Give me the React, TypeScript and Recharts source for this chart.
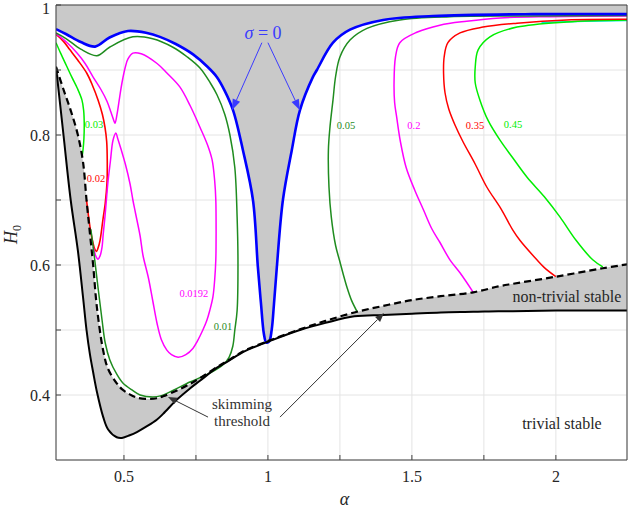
import React from 'react';
import {
  ComposedChart,
  Line,
  Area,
  XAxis,
  YAxis,
  CartesianGrid,
  ReferenceLine,
  ReferenceDot,
} from 'recharts';

// ---------- axes ----------
const alphaRange: [number, number] = [0.264, 2.247];
const hRange: [number, number] = [0.3, 1];
const alphaTicks = [0.5, 0.75, 1, 1.25, 1.5, 1.75, 2];
const alphaTickLabels = ['0.5', '', '1', '', '1.5', '', '2'];
const hTicks = [0.4, 0.5, 0.6, 0.7, 0.8, 0.9, 1];
const hTickLabels = ['0.4', '', '0.6', '', '0.8', '', '1'];

// ---------- sigma = 0 boundary (alpha, H0) ----------
const sigmaZero: [number, number][] = [
  [0.264, 0.963], [0.3, 0.955], [0.35, 0.943], [0.4, 0.936], [0.45, 0.95], [0.514, 0.96],
  [0.58, 0.957], [0.625, 0.951], [0.68, 0.94], [0.74, 0.924], [0.79, 0.905], [0.823, 0.889],
  [0.85, 0.868], [0.879, 0.838], [0.913, 0.777], [0.948, 0.7], [0.965, 0.597], [0.976, 0.54],
  [0.986, 0.494], [0.994, 0.481], [1.004, 0.482], [1.013, 0.5], [1.021, 0.54], [1.031, 0.597],
  [1.052, 0.7], [1.083, 0.777], [1.111, 0.838], [1.156, 0.889], [1.17, 0.9], [1.226, 0.942],
  [1.285, 0.962], [1.4, 0.977], [1.573, 0.983], [1.92, 0.986], [2.247, 0.986],
];

// ---------- lower band: (alpha, trivial-stability bound, skimming threshold) ----------
const skimBand: [number, number, number][] = [
  [0.264, 0.905, 0.905], [0.29, 0.8, 0.87], [0.315, 0.7, 0.838], [0.34, 0.622, 0.8],
  [0.358, 0.55, 0.758], [0.37, 0.5, 0.7], [0.382, 0.462, 0.648], [0.393, 0.435, 0.6],
  [0.406, 0.405, 0.535], [0.428, 0.366, 0.468], [0.445, 0.347, 0.44], [0.475, 0.335, 0.418],
  [0.493, 0.334, 0.409], [0.52, 0.338, 0.401], [0.545, 0.343, 0.396], [0.58, 0.352, 0.394],
  [0.614, 0.362, 0.395], [0.636, 0.371, 0.398], [0.684, 0.393, 0.407], [0.729, 0.41, 0.417],
  [0.764, 0.422, 0.426], [0.823, 0.442, 0.443], [0.858, 0.451, 0.452], [0.913, 0.466, 0.467],
  [0.9375, 0.471, 0.472], [0.983, 0.479, 0.48], [1.0, 0.482, 0.483], [1.111, 0.5, 0.501],
  [1.2, 0.511, 0.514], [1.3, 0.521, 0.527], [1.4, 0.523, 0.537], [1.5, 0.525, 0.546],
  [1.6, 0.527, 0.552], [1.713, 0.528, 0.558], [1.8, 0.529, 0.567], [1.85, 0.529, 0.571],
  [2.0, 0.53, 0.582], [2.163, 0.53, 0.595], [2.247, 0.53, 0.601],
];

// ---------- growth-rate contours (alpha, H0) ----------
const sigma003: [number, number][] = [
  [0.264, 0.942], [0.28, 0.926], [0.3, 0.907], [0.319, 0.889], [0.338, 0.872], [0.354, 0.854],
  [0.36, 0.838], [0.362, 0.818], [0.361, 0.795], [0.358, 0.778], [0.355, 0.768],
];
const sigma002: [number, number][] = [
  [0.264, 0.955], [0.29, 0.944], [0.3125, 0.931], [0.34, 0.915], [0.371, 0.895], [0.39, 0.877],
  [0.41, 0.854], [0.425, 0.832], [0.434, 0.812], [0.44, 0.79], [0.442, 0.76], [0.441, 0.726],
  [0.435, 0.695], [0.427, 0.67], [0.417, 0.638], [0.41, 0.626], [0.405, 0.621], [0.399, 0.624],
  [0.392, 0.635], [0.385, 0.65], [0.377, 0.675], [0.37, 0.7],
];
const sigma00192: [number, number][] = [
  [0.264, 0.956], [0.3, 0.943], [0.337, 0.926], [0.365, 0.91], [0.393, 0.889], [0.42, 0.87],
  [0.441, 0.852], [0.455, 0.835], [0.465, 0.822], [0.469, 0.818], [0.476, 0.832], [0.485, 0.858],
  [0.493, 0.88], [0.505, 0.905], [0.514, 0.917], [0.531, 0.926], [0.56, 0.925], [0.615, 0.91],
  [0.65, 0.895], [0.694, 0.874], [0.73, 0.845], [0.764, 0.812], [0.79, 0.785], [0.806, 0.762],
  [0.815, 0.73], [0.819, 0.7], [0.82, 0.65], [0.819, 0.608], [0.815, 0.577], [0.809, 0.551],
  [0.798, 0.53], [0.788, 0.515], [0.774, 0.5], [0.755, 0.483], [0.74, 0.472], [0.715, 0.462],
  [0.688, 0.458], [0.665, 0.462], [0.649, 0.469], [0.63, 0.485], [0.615, 0.51], [0.6, 0.545],
  [0.585, 0.58], [0.566, 0.615], [0.556, 0.645], [0.54, 0.68], [0.531, 0.7], [0.521, 0.725],
  [0.505, 0.755], [0.49, 0.778], [0.478, 0.795], [0.472, 0.803], [0.462, 0.792], [0.453, 0.76],
  [0.444, 0.726], [0.439, 0.7], [0.434, 0.674], [0.428, 0.648], [0.424, 0.628], [0.417, 0.614],
  [0.41, 0.609], [0.404, 0.612], [0.399, 0.618], [0.393, 0.628],
];
const sigma001: [number, number][] = [
  [0.264, 0.957], [0.3, 0.948], [0.35, 0.932], [0.406, 0.922], [0.45, 0.935], [0.531, 0.951],
  [0.6, 0.948], [0.67, 0.935], [0.72, 0.92], [0.764, 0.903], [0.8, 0.88], [0.823, 0.862],
  [0.85, 0.832], [0.868, 0.8], [0.885, 0.75], [0.893, 0.674], [0.896, 0.6], [0.893, 0.53],
  [0.885, 0.5], [0.878, 0.475], [0.865, 0.458], [0.845, 0.447], [0.8, 0.434], [0.729, 0.42],
  [0.67, 0.407], [0.63, 0.399], [0.6, 0.397], [0.556, 0.4], [0.53, 0.407], [0.497, 0.418],
  [0.475, 0.432], [0.451, 0.454], [0.435, 0.48], [0.424, 0.515], [0.41, 0.565], [0.393, 0.628],
  [0.385, 0.655],
];
const sigma005: [number, number][] = [
  [2.247, 0.984], [1.9, 0.983], [1.632, 0.982], [1.458, 0.977], [1.344, 0.964], [1.285, 0.946],
  [1.25, 0.92], [1.235, 0.89], [1.226, 0.854], [1.215, 0.81], [1.21, 0.777], [1.212, 0.72],
  [1.22, 0.674], [1.235, 0.63], [1.25, 0.605], [1.262, 0.585], [1.275, 0.565], [1.29, 0.546],
  [1.31, 0.528],
];
const sigma02: [number, number][] = [
  [2.247, 0.983], [1.98, 0.982], [1.806, 0.98], [1.69, 0.975], [1.597, 0.969], [1.517, 0.958],
  [1.458, 0.942], [1.443, 0.92], [1.438, 0.88], [1.44, 0.85], [1.447, 0.828], [1.46, 0.79],
  [1.48, 0.75], [1.51, 0.715], [1.54, 0.685], [1.57, 0.655], [1.597, 0.635], [1.632, 0.608],
  [1.667, 0.588], [1.713, 0.558],
];
const sigma035: [number, number][] = [
  [2.247, 0.978], [2.038, 0.977], [1.865, 0.972], [1.747, 0.966], [1.667, 0.957], [1.625, 0.942],
  [1.612, 0.92], [1.61, 0.895], [1.615, 0.865], [1.628, 0.84], [1.65, 0.815], [1.677, 0.79],
  [1.72, 0.755], [1.76, 0.72], [1.81, 0.686], [1.85, 0.654], [1.875, 0.638], [1.934, 0.608],
  [1.96, 0.596], [2.0, 0.582],
];
const sigma045: [number, number][] = [
  [2.247, 0.977], [2.038, 0.974], [1.865, 0.966], [1.771, 0.951], [1.73, 0.931], [1.72, 0.905],
  [1.72, 0.88], [1.736, 0.854], [1.765, 0.822], [1.806, 0.792], [1.85, 0.765], [1.9, 0.735],
  [1.96, 0.705], [2.014, 0.674], [2.07, 0.638], [2.128, 0.608], [2.163, 0.597],
];
const sigma055: [number, number][] = [[1.95, 0.973], [2.1, 0.975], [2.247, 0.976]];

// ---------- contour labels: text, alpha, H0 ----------
const contourLabels: [string, number, number][] = [
  ['0.03', 0.396, 0.816], ['0.02', 0.403, 0.734], ['0.0192', 0.743, 0.557], ['0.01', 0.844, 0.505],
  ['0.05', 1.271, 0.815], ['0.2', 1.507, 0.815], ['0.35', 1.719, 0.815], ['0.45', 1.851, 0.816],
];

// ---------- annotations (data coordinates) ----------
const sigmaLabel: [number, number] = [0.983, 0.957];
const sigmaArrows: [number, number, number, number][] = [
  [0.979, 0.942, 0.875, 0.838],
  [1.0, 0.942, 1.111, 0.838],
];
const skimLabel: [number, number] = [0.91, 0.378];
const skimArrows: [number, number, number, number][] = [
  [0.792, 0.366, 0.653, 0.397],
  [1.042, 0.366, 1.403, 0.526],
];
const regionLabels: [string, number, number][] = [
  ['non-trivial stable', 2.038, 0.551],
  ['trivial stable', 2.021, 0.357],
];

// ---------- styling ----------
const FONT = "'Liberation Serif', 'Times New Roman', Times, 'DejaVu Serif', serif";
const AXIS = '#404040';
const INK = '#262626';
const GRAY = '#c9c9c9';
const DKGREEN = '#1f8c1f';
const LIME = '#00ee00';
const RED = '#ff0000';
const MAGENTA = '#ff00ff';
const BLUE = '#0000ff';
const CYAN = '#00e5e5';

const labelColor: Record<string, string> = {
  '0.03': LIME, '0.02': RED, '0.0192': MAGENTA, '0.01': DKGREEN,
  '0.05': DKGREEN, '0.2': MAGENTA, '0.35': RED, '0.45': LIME,
};

const toPts = (arr: [number, number][]) => arr.map(([a, h]) => ({ a, h }));

// centripetal Catmull-Rom curve through the points, usable for lines and areas
function SmoothCurve(this: any, context: any) {
  this._context = context;
}
SmoothCurve.prototype = {
  areaStart() {
    this._line = 0;
  },
  areaEnd() {
    this._line = NaN;
  },
  lineStart() {
    this._pts = [];
  },
  lineEnd() {
    const p: number[][] = this._pts;
    const n = p.length;
    const ctx = this._context;
    const eps = 1e-9;
    if (n) {
      if (this._line) ctx.lineTo(p[0][0], p[0][1]);
      else ctx.moveTo(p[0][0], p[0][1]);
      if (n === 2) ctx.lineTo(p[1][0], p[1][1]);
      else {
        for (let i = 0; i < n - 1; i++) {
          const p0 = i > 0 ? p[i - 1] : p[i];
          const p1 = p[i];
          const p2 = p[i + 1];
          const p3 = i + 2 < n ? p[i + 2] : p2;
          const d01 = Math.sqrt(Math.hypot(p1[0] - p0[0], p1[1] - p0[1]));
          const d12 = Math.sqrt(Math.hypot(p2[0] - p1[0], p2[1] - p1[1]));
          const d23 = Math.sqrt(Math.hypot(p3[0] - p2[0], p3[1] - p2[1]));
          let c1x = p1[0], c1y = p1[1], c2x = p2[0], c2y = p2[1];
          if (d01 > eps) {
            const a = 2 * d01 * d01 + 3 * d01 * d12 + d12 * d12;
            const nn = 3 * d01 * (d01 + d12);
            c1x = (p1[0] * a - p0[0] * d12 * d12 + p2[0] * d01 * d01) / nn;
            c1y = (p1[1] * a - p0[1] * d12 * d12 + p2[1] * d01 * d01) / nn;
          }
          if (d23 > eps) {
            const b = 2 * d23 * d23 + 3 * d23 * d12 + d12 * d12;
            const m = 3 * d23 * (d23 + d12);
            c2x = (p2[0] * b + p1[0] * d23 * d23 - p3[0] * d12 * d12) / m;
            c2y = (p2[1] * b + p1[1] * d23 * d23 - p3[1] * d12 * d12) / m;
          }
          ctx.bezierCurveTo(c1x, c1y, c2x, c2y, p2[0], p2[1]);
        }
      }
    }
    if (this._line || (this._line !== 0 && n === 1)) ctx.closePath();
    this._line = 1 - this._line;
  },
  point(x: number, y: number) {
    this._pts.push([+x, +y]);
  },
};
const smooth: any = (context: any) => new (SmoothCurve as any)(context);

const contours: { key: string; pts: [number, number][]; color: string; w: number }[] = [
  { key: 'c055', pts: sigma055, color: CYAN, w: 1.5 },
  { key: 'c045', pts: sigma045, color: LIME, w: 1.5 },
  { key: 'c035', pts: sigma035, color: RED, w: 1.5 },
  { key: 'c02', pts: sigma02, color: MAGENTA, w: 1.5 },
  { key: 'c005', pts: sigma005, color: DKGREEN, w: 1.5 },
  { key: 'c003', pts: sigma003, color: LIME, w: 1.5 },
  { key: 'c002', pts: sigma002, color: RED, w: 1.6 },
  { key: 'c00192', pts: sigma00192, color: MAGENTA, w: 1.5 },
  { key: 'c001', pts: sigma001, color: DKGREEN, w: 1.5 },
];

const arrowShape = (color: string, headLen: number, headW: number) => (p: any) => {
  const x1 = Number(p.x1), y1 = Number(p.y1), x2 = Number(p.x2), y2 = Number(p.y2);
  const dx = x2 - x1, dy = y2 - y1;
  const L = Math.hypot(dx, dy) || 1;
  const ux = dx / L, uy = dy / L;
  const bx = x2 - ux * headLen, by = y2 - uy * headLen;
  const px = -uy * headW, py = ux * headW;
  return (
    <g>
      <line x1={x1} y1={y1} x2={bx} y2={by} stroke={color} strokeWidth={1} />
      <polygon points={`${x2},${y2} ${bx + px},${by + py} ${bx - px},${by - py}`} fill={color} />
    </g>
  );
};

const txt = (size: number, extra: any = {}) => ({ fontFamily: FONT, fontSize: size, ...extra });

const XTick = (props: any) => {
  const i = alphaTicks.findIndex((t) => Math.abs(t - props.payload.value) < 1e-9);
  const label = i >= 0 ? alphaTickLabels[i] : '';
  return (
    <text x={props.x} y={props.y} dy="0.71em" textAnchor="middle" fill={INK} style={txt(16)}>
      {label}
    </text>
  );
};

const YTick = (props: any) => {
  const v = props.payload.value;
  const i = hTicks.findIndex((t) => Math.abs(t - v) < 1e-9);
  const label = i >= 0 ? hTickLabels[i] : '';
  const shift = v >= 0.999 ? 3 : 0;
  return (
    <text
      x={props.x}
      y={props.y + shift}
      dy="0.35em"
      textAnchor="end"
      fill={INK}
      style={txt(16)}
    >
      {label}
    </text>
  );
};

const H0Label = (props: any) => {
  const vb = props.viewBox || { x: 0, y: 5, width: 56, height: 455 };
  const x = vb.x + 17;
  const y = vb.y + vb.height / 2 + 2;
  return (
    <text
      x={x}
      y={y}
      transform={`rotate(-90, ${x}, ${y})`}
      textAnchor="middle"
      fill={INK}
      style={txt(18)}
    >
      <tspan style={{ fontStyle: 'italic' }}>H</tspan>
      <tspan style={{ fontSize: 12 }} dy={4}>
        0
      </tspan>
    </text>
  );
};

const AlphaLabel = (props: any) => {
  const vb = props.viewBox || { x: 56, y: 460, width: 571, height: 48 };
  return (
    <text
      x={vb.x + vb.width / 2 + 3}
      y={vb.y + 45}
      textAnchor="middle"
      fill={INK}
      style={txt(18, { fontStyle: 'italic' })}
    >
      α
    </text>
  );
};

export default function App() {
  const topBand = sigmaZero.map(([a, h]) => ({ a, band: [h, 1] }));
  const lowBand = skimBand.map(([a, s, d]) => ({ a, band: [s, d] }));
  const solid = skimBand.map(([a, s]) => ({ a, h: s }));
  const dashed = skimBand.map(([a, , d]) => ({ a, h: d }));

  return (
    <div
      style={{
        position: 'absolute',
        left: 0,
        top: 0,
        width: 629,
        height: 508,
        background: '#fff',
        fontFamily: FONT,
      }}
    >
      <ComposedChart width={629} height={508} margin={{ top: 4, right: 1, left: 0, bottom: 0 }}>
        <CartesianGrid stroke="#e4e4e4" strokeWidth={1} />
        <XAxis
          dataKey="a"
          type="number"
          domain={alphaRange}
          allowDataOverflow
          ticks={alphaTicks}
          interval={0}
          height={48}
          tickSize={-5}
          tickMargin={16}
          stroke={AXIS}
          tick={<XTick />}
          label={<AlphaLabel />}
        />
        <XAxis
          xAxisId="top"
          orientation="top"
          type="number"
          domain={alphaRange}
          allowDataOverflow
          ticks={alphaTicks}
          interval={0}
          height={1}
          tickSize={-5}
          tick={false}
          stroke={AXIS}
        />
        <YAxis
          type="number"
          domain={hRange}
          allowDataOverflow
          ticks={hTicks}
          interval={0}
          width={56}
          tickSize={-5}
          tickMargin={11}
          stroke={AXIS}
          tick={<YTick />}
          label={<H0Label />}
        />
        <YAxis
          yAxisId="right"
          orientation="right"
          type="number"
          domain={hRange}
          allowDataOverflow
          ticks={hTicks}
          interval={0}
          width={1}
          tickSize={-5}
          tick={false}
          stroke={AXIS}
        />

        <Area
          data={topBand}
          dataKey="band"
          type={smooth}
          fill={GRAY}
          fillOpacity={1}
          stroke="none"
          dot={false}
          activeDot={false}
          isAnimationActive={false}
        />
        <Area
          data={lowBand}
          dataKey="band"
          type={smooth}
          fill={GRAY}
          fillOpacity={1}
          stroke="none"
          dot={false}
          activeDot={false}
          isAnimationActive={false}
        />

        {contours.map((c) => (
          <Line
            key={c.key}
            data={toPts(c.pts)}
            dataKey="h"
            type={smooth}
            stroke={c.color}
            strokeWidth={c.w}
            dot={false}
            activeDot={false}
            isAnimationActive={false}
          />
        ))}

        <Line
          data={toPts(sigmaZero)}
          dataKey="h"
          type={smooth}
          stroke={BLUE}
          strokeWidth={2.6}
          dot={false}
          activeDot={false}
          isAnimationActive={false}
        />
        <Line
          data={solid}
          dataKey="h"
          type={smooth}
          stroke="#000"
          strokeWidth={2}
          dot={false}
          activeDot={false}
          isAnimationActive={false}
        />
        <Line
          data={dashed}
          dataKey="h"
          type={smooth}
          stroke="#000"
          strokeWidth={2.2}
          strokeDasharray="7 4"
          dot={false}
          activeDot={false}
          isAnimationActive={false}
        />

        {sigmaArrows.map(([a1, h1, a2, h2], i) => (
          <ReferenceLine
            key={`sa${i}`}
            segment={[{ x: a1, y: h1 }, { x: a2, y: h2 }]}
            shape={arrowShape('#3b3bff', 11, 4)}
          />
        ))}
        {skimArrows.map(([a1, h1, a2, h2], i) => (
          <ReferenceLine
            key={`ka${i}`}
            segment={[{ x: a1, y: h1 }, { x: a2, y: h2 }]}
            shape={arrowShape('#333', 9, 3.5)}
          />
        ))}

        {contourLabels.map(([t, a, h]) => (
          <ReferenceDot
            key={`cl${t}`}
            x={a}
            y={h}
            r={0}
            shape={(p: any) => (
              <text
                x={p.cx}
                y={p.cy}
                dy="0.35em"
                textAnchor="middle"
                fill={labelColor[t]}
                style={txt(10.5)}
              >
                {t}
              </text>
            )}
          />
        ))}

        <ReferenceDot
          x={sigmaLabel[0]}
          y={sigmaLabel[1]}
          r={0}
          shape={(p: any) => (
            <text x={p.cx} y={p.cy} dy="0.35em" textAnchor="middle" fill="#3b3bff" style={txt(18)}>
              <tspan style={{ fontStyle: 'italic' }}>σ</tspan>
              <tspan> = 0</tspan>
            </text>
          )}
        />
        <ReferenceDot
          x={skimLabel[0]}
          y={skimLabel[1]}
          r={0}
          shape={(p: any) => (
            <text x={p.cx} y={p.cy} textAnchor="middle" fill="#333" style={txt(15)}>
              <tspan x={p.cx} dy={0}>
                skimming
              </tspan>
              <tspan x={p.cx} dy={17}>
                threshold
              </tspan>
            </text>
          )}
        />
        {regionLabels.map(([t, a, h]) => (
          <ReferenceDot
            key={`rl${t}`}
            x={a}
            y={h}
            r={0}
            shape={(p: any) => (
              <text x={p.cx} y={p.cy} dy="0.35em" textAnchor="middle" fill={INK} style={txt(16)}>
                {t}
              </text>
            )}
          />
        ))}
      </ComposedChart>
    </div>
  );
}
